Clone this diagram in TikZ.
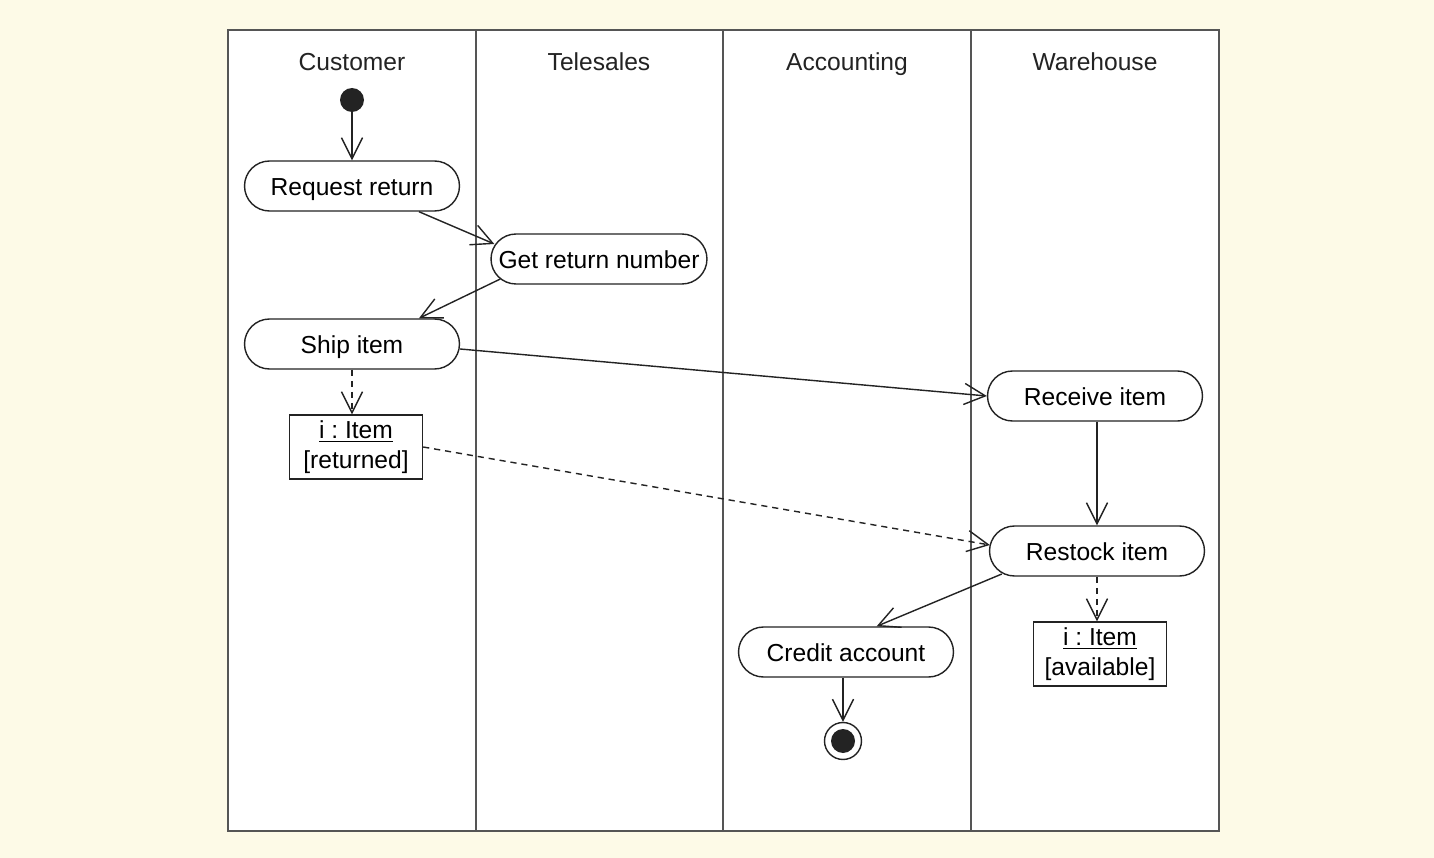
\documentclass[tikz,border=0pt]{standalone}
\usepackage{fontspec}
\setmainfont{Liberation Sans}
\usetikzlibrary{calc,arrows.meta}
\definecolor{paper}{RGB}{253,250,231}
\definecolor{ink}{RGB}{35,35,35}
\definecolor{lane}{RGB}{85,85,85}

\begin{document}
\begin{tikzpicture}[x=0.02cm,y=-0.02cm,
  font=\fontsize{14}{17}\selectfont\frenchspacing,
  action/.style={rectangle,rounded corners=0.5cm,draw=ink,line width=0.8pt,fill=white,
    minimum width=4.3cm,minimum height=1cm,inner xsep=0pt,text height=12pt,text depth=1pt},
  object/.style={draw=ink,line width=0.8pt,fill=white,align=center,
    minimum width=2.66cm,minimum height=1.28cm,inner sep=1pt},
  title/.style={anchor=base,text=ink},
  flow/.style={draw=ink,line width=0.8pt,-{Straight Barb[length=12pt,width=12pt]}},
  objflow/.style={flow,dash pattern=on 3.5pt off 2.8pt}]
  \fill[paper] (0,0) rectangle (1434,858);
  \useasboundingbox (0,0) rectangle (1434,858);
  % swimlanes
  \draw[lane,fill=white,line width=1.1pt] (228,30) rectangle (1219,831);
  \foreach \x in {476,723,971}
    \draw[lane,line width=1.1pt] (\x,30) -- (\x,831);
  \node[title] (customer) at (352,71) {Customer};
  \node[title] (telesales) at (599,71) {Telesales};
  \node[title] (accounting) at (847,71) {Accounting};
  \node[title] (warehouse) at (1095,71) {Warehouse};
  % activities
  \node[circle,fill=ink,minimum size=0.48cm,inner sep=0] (start) at (352,100) {};
  \node[action] (req) at (352,186) {Request return};
  \node[action,minimum width=4.32cm] (get) at (599,259) {Get return number};
  \node[action] (ship) at (352,344) {Ship item};
  \node[object] (item1) at (356,447) {\underline{i : Item}\\{[returned]}};
  \node[action] (recv) at (1095,396) {Receive item};
  \node[action] (rest) at (1097,551) {Restock item};
  \node[object] (item2) at (1100,654) {\underline{i : Item}\\{[available]}};
  \node[action] (credit) at (846,652) {Credit account};
  \node[circle,draw=ink,line width=0.8pt,minimum size=0.74cm,inner sep=0] (stop) at (843,741) {};
  \fill[ink] (stop) circle (0.24cm);
  % flows
  \draw[flow] (start) -- (req);
  \draw[flow] (req.-21) -- ($(get.west)+(4,-15)$);
  \draw[flow] ($(get.west)+(10,20)$) -- (ship.21);
  \draw[flow] ($(ship.east)+(0,5)$) -- (recv.west);
  \draw[objflow] (ship.south) -- (ship.south |- item1.north);
  \draw[objflow] (item1.east) -- ($(rest.west)+(1,-6)$);
  \draw[flow] (rest.north |- recv.south) -- (rest.north);
  \draw[objflow] (rest.south) -- (rest.south |- item2.north);
  \draw[flow] ($(rest.west)+(13,23)$) -- (credit.40);
  \draw[flow] (credit.south -| stop) -- (stop);
\end{tikzpicture}
\end{document}
